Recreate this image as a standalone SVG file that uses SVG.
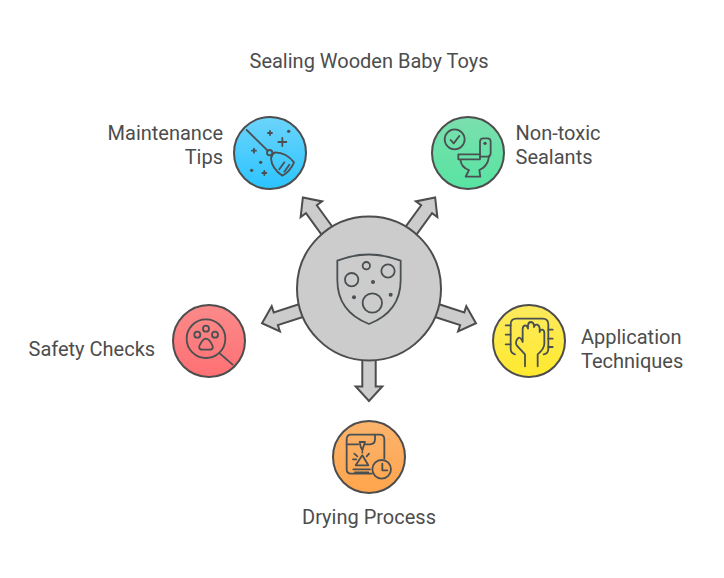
<svg xmlns="http://www.w3.org/2000/svg" width="724" height="578" viewBox="0 0 724 578">
<defs>
<linearGradient id="gb" x1="0" y1="0" x2="0" y2="1"><stop offset="0" stop-color="#6cd4fb"/><stop offset="1" stop-color="#2bc4ff"/></linearGradient>
<linearGradient id="gg" x1="0" y1="0" x2="0" y2="1"><stop offset="0" stop-color="#7bdfae"/><stop offset="1" stop-color="#58e4a2"/></linearGradient>
<linearGradient id="gy" x1="0" y1="0" x2="0" y2="1"><stop offset="0" stop-color="#fdea5e"/><stop offset="1" stop-color="#ffe92e"/></linearGradient>
<linearGradient id="go" x1="0" y1="0" x2="0" y2="1"><stop offset="0" stop-color="#fbb36c"/><stop offset="1" stop-color="#ffa54d"/></linearGradient>
<linearGradient id="gr" x1="0" y1="0" x2="0" y2="1"><stop offset="0" stop-color="#fb8a8a"/><stop offset="1" stop-color="#ff7074"/></linearGradient>
<path id="arrow" d="M66,-6.7H98V-13.3L112.5,0L98,13.3V6.7H66Z"/>
</defs>
<style>
text{font-family:Roboto,"Liberation Sans",sans-serif;font-size:20px;fill:#4d4d4d}
.r{text-anchor:end}.m{text-anchor:middle}
.c{stroke:#4d4d4d;stroke-width:2}
.a{fill:#ccc;stroke:#4d4d4d;stroke-width:2;stroke-linejoin:miter}
.i{fill:none;stroke:#4a5052;stroke-width:5.4;stroke-linecap:round;stroke-linejoin:round}
.d{fill:#4a5052}
</style>
<rect width="724" height="578" fill="#fff"/>
<text class="m" x="369" y="68">Sealing Wooden Baby Toys</text>
<g id="connectors" transform="translate(369 288.5)">
<use href="#arrow" class="a" transform="rotate(-54)"/>
<use href="#arrow" class="a" transform="rotate(-126)"/>
<use href="#arrow" class="a" transform="rotate(18)"/>
<use href="#arrow" class="a" transform="rotate(162)"/>
<use href="#arrow" class="a" transform="rotate(90)"/>
</g>
<g id="center">
<circle cx="369" cy="288.5" r="72" fill="#ccc" class="c"/>
<g transform="translate(255 190) scale(.33333)">
<path class="i" d="M247,212Q340,175 437,212V270Q437,365 342,402Q247,365 247,270Z"/>
<circle class="i" cx="334" cy="227" r="11"/><circle class="i" cx="399" cy="243" r="20"/><circle class="i" cx="290" cy="269" r="20"/><circle class="i" cx="352" cy="339" r="29"/>
<circle class="d" cx="354" cy="276" r="6"/><circle class="d" cx="297" cy="322" r="6"/><circle class="d" cx="407" cy="314" r="6"/>
</g>
</g>
<g id="maintenance">
<circle cx="270" cy="153" r="36" fill="url(#gb)" class="c"/>
<g transform="translate(225 110) scale(.33333)">
<path class="i" d="M65,60L128,122"/><circle class="i" cx="134" cy="128" r="8"/>
<path class="i" d="M150,127Q185,128 207,157Q195,185 172,197Q140,175 138,145Q140,132 150,127ZM163,178L178,157M178,185L193,164"/>
<path class="i" d="M135,63V75M129,69H141M172,84V108M160,96H184M87,116V128M81,122H93M118,183V195M112,189H124"/>
<circle class="d" cx="191" cy="64" r="5"/><circle class="d" cx="107" cy="157" r="5"/><circle class="d" cx="80" cy="181" r="5"/>
</g>
<text class="r" x="223" y="140">Maintenance</text><text class="r" x="223" y="164">Tips</text>
</g>
<g id="sealants">
<circle cx="468" cy="153" r="36" fill="url(#gg)" class="c"/>
<g transform="translate(425 110) scale(.33333)">
<circle class="i" cx="89" cy="88" r="30"/><path class="i" d="M77,90L86,100L103,78"/>
<path class="i" d="M165,133V95Q165,85 175,85H187Q197,85 197,95V130Q197,140 187,140H165"/>
<circle class="d" cx="180" cy="100" r="5"/>
<path class="i" d="M100,133H165V148H100ZM106,148Q108,172 132,180L122,200H166L163,180Q188,170 192,140"/>
</g>
<text x="515.5" y="140">Non-toxic</text><text x="515.5" y="164">Sealants</text>
</g>
<g id="application">
<circle cx="529" cy="341" r="36" fill="url(#gy)" class="c"/>
<g transform="translate(485 297) scale(.33333)">
<path class="i" d="M90,172Q77,168 77,155V82Q77,65 94,65H173Q190,65 190,82V155Q190,170 176,172"/>
<path class="i" d="M62,85H77M62,113H77M62,142H77M190,98H203M190,125H203M190,150H203"/>
<path class="i" d="M120,208V172L95,145Q90,135 98,125Q104,118 110,128L113,135V95Q114,85 122,85Q128,87 129,95V85Q130,75 138,75Q146,76 147,85V90Q149,82 156,83Q163,85 164,95V105Q166,97 172,98Q178,100 178,108V140Q178,155 158,172V208"/>
</g>
<text x="581" y="344">Application</text><text x="581" y="368">Techniques</text>
</g>
<g id="drying">
<circle cx="369" cy="457" r="36" fill="url(#go)" class="c"/>
<g transform="translate(325 412) scale(.33333)">
<path class="i" d="M140,185H78Q65,185 65,172V82Q65,68 78,68H165Q178,68 178,82V140"/>
<path class="i" d="M65,97H100M122,97H135Q150,97 150,82V68"/>
<path class="i" d="M104,90H120L112,115Q106,105 104,90Z"/>
<path class="i" d="M92,160L112,130L130,160ZM85,172H135M90,181H130"/>
<path class="i" d="M88,125L97,133M132,125L125,133M84,142H94M112,120V122"/>
<circle class="i" cx="170" cy="172" r="28"/><path class="i" d="M172,155V175H187"/>
</g>
<text class="m" x="369" y="524">Drying Process</text>
</g>
<g id="safety">
<circle cx="209" cy="341" r="36" fill="url(#gr)" class="c"/>
<g transform="translate(165 297) scale(.33333)">
<circle class="i" cx="123" cy="125" r="58"/><path class="i" d="M165,170L203,203"/>
<circle class="i" cx="97" cy="113" r="9"/><circle class="i" cx="123" cy="95" r="9"/><circle class="i" cx="150" cy="113" r="9"/>
<path class="i" d="M123,125Q133,125 143,147Q146,158 132,158H114Q100,158 103,147Q113,125 123,125Z"/>
</g>
<text x="28.5" y="356">Safety Checks</text>
</g>
</svg>
